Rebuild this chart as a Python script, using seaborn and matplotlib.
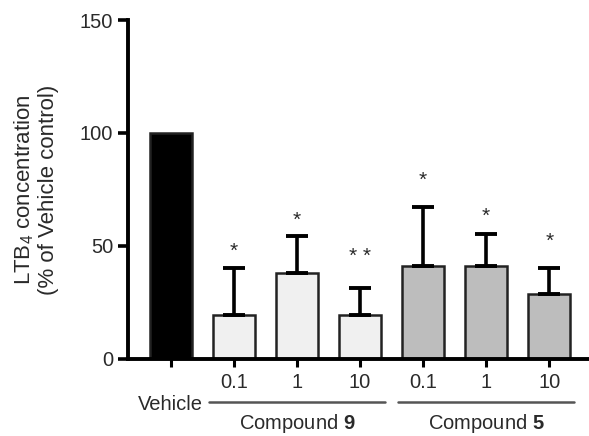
import numpy as np
import pandas as pd
import matplotlib
matplotlib.use('Agg')
import matplotlib.pyplot as plt
import matplotlib.transforms as mtransforms
import seaborn as sns

# data
conditions = ['Vehicle', 'C9 0.1', 'C9 1', 'C9 10', 'C5 0.1', 'C5 1', 'C5 10']
dose_labels = ['\nVehicle', '0.1', '1', '10', '0.1', '1', '10']
means = [100, 19.5, 38.2, 19.5, 41.3, 41.3, 28.8]
sems = [0, 20.5, 16, 12, 26, 14, 11.5]
stars = ['', '*', '*', '* *', '*', '*', '*']
star_y = [0, 47.5, 61.5, 45.5, 79, 63, 52]
group_names = ['Compound $\\mathbf{9}$', 'Compound $\\mathbf{5}$']
group_members = [[1, 2, 3], [4, 5, 6]]
bar_colors = ['#000000', '#f0f0f0', '#f0f0f0', '#f0f0f0', '#bdbdbd', '#bdbdbd', '#bdbdbd']


def make_plot():
    sns.set_style('ticks')
    plt.rcParams['font.family'] = ['Liberation Sans', 'DejaVu Sans']
    plt.rcParams['mathtext.fontset'] = 'custom'
    plt.rcParams['mathtext.rm'] = 'Liberation Sans'
    plt.rcParams['mathtext.it'] = 'Liberation Sans'
    plt.rcParams['mathtext.bf'] = 'Liberation Sans:bold'
    text_color = '#2a2a2a'

    df = pd.DataFrame({'condition': conditions, 'value': means})

    fig = plt.figure(figsize=(5.89, 4.36), dpi=100)
    ax = fig.add_axes([0.217, 0.177, 0.783, 0.777])

    sns.barplot(data=df, x='condition', y='value', hue='condition',
                palette=bar_colors, width=0.67, edgecolor='#222222',
                linewidth=1.8, errorbar=None, legend=False, ax=ax)

    idx = np.arange(1, len(conditions))
    upper = np.array(sems[1:])
    ax.errorbar(idx, means[1:], yerr=[np.zeros_like(upper), upper],
                fmt='none', ecolor='black', elinewidth=2.6,
                capsize=8, capthick=2.8, zorder=1)

    for i, (s, y) in enumerate(zip(stars, star_y)):
        if s:
            ax.text(i, y, s, ha='center', va='center', fontsize=15,
                    color=text_color)

    ax.set_ylim(0, 150)
    ax.set_xlim(-0.68, 6.63)
    ax.set_yticks([0, 50, 100, 150])
    ax.set_xticks(range(len(conditions)))
    ax.set_xticklabels(dose_labels, fontsize=14.5, color=text_color)
    ax.tick_params(axis='y', labelsize=14.5, labelcolor=text_color,
                   length=7, width=2.6, color='black')
    ax.tick_params(axis='x', length=6, width=2.2, color='black', pad=4)
    ax.set_xlabel('')
    ax.set_ylabel('LTB$_4$ concentration\n(% of Vehicle control)',
                  fontsize=16, color=text_color, labelpad=15, linespacing=1.15)

    sns.despine(ax=ax)
    for side in ['left', 'bottom']:
        ax.spines[side].set_linewidth(2.8)
        ax.spines[side].set_color('black')

    trans = mtransforms.blended_transform_factory(ax.transData, ax.transAxes)
    for name, members in zip(group_names, group_members):
        x0, x1 = members[0] - 0.4, members[-1] + 0.4
        ax.plot([x0, x1], [-0.127, -0.127], transform=trans, color='#555555',
                lw=1.8, clip_on=False)
        ax.text((x0 + x1) / 2, -0.19, name, transform=trans, ha='center',
                va='center', fontsize=14.5, color=text_color)

    fig.savefig('out.png', dpi=100)


if __name__ == '__main__':
    make_plot()
